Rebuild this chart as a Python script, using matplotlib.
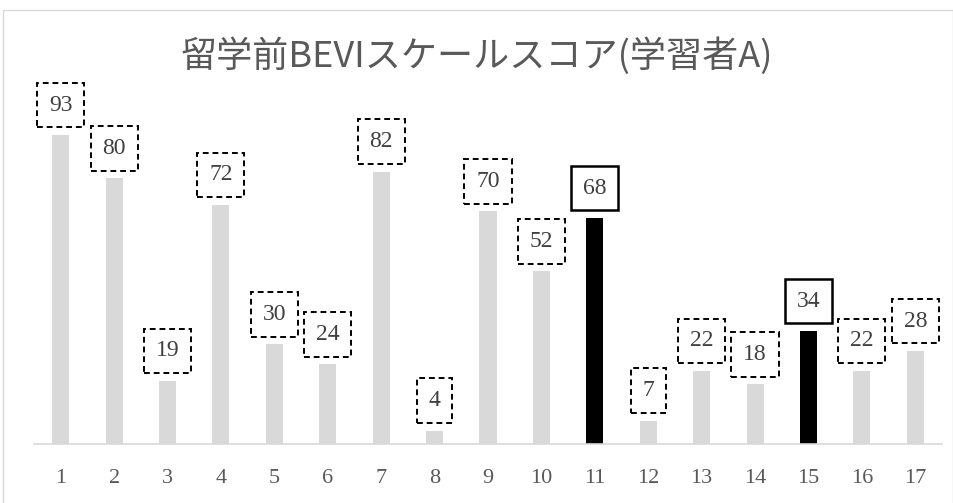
"""Pre-study BEVI scale scores for learner A."""

import matplotlib.pyplot as plt
from matplotlib.patches import Rectangle

plt.rcParams["font.family"] = ["Noto Sans CJK JP", "DejaVu Sans"]

SCALES = [str(i) for i in range(1, 18)]
SCORES = [93, 80, 19, 72, 30, 24, 82, 4, 70, 52, 68, 7, 22, 18, 34, 22, 28]
HIGHLIGHT = ["11", "15"]
TITLE = "留学前BEVIスケールスコア(学習者A)"

GRAY = "#d9d9d9"
TEXT = "#595959"
SERIF = ["Liberation Serif", "DejaVu Serif"]

fig = plt.figure(figsize=(9.54, 5.03), dpi=100)
# chart frame like a spreadsheet chart area
fig.patches.append(Rectangle((3 / 954, -0.01), 950 / 954, 1 - 10 / 503 + 0.01,
                             transform=fig.transFigure, fill=False, edgecolor=GRAY, lw=1.0))

ax = fig.add_axes([34 / 954, (503 - 444) / 503, 908 / 954, 382 / 503])
x = list(range(1, len(SCALES) + 1))
colors = ["black" if s in HIGHLIGHT else GRAY for s in SCALES]
ax.bar(x, SCORES, width=0.32, color=colors, zorder=2)

for xi, s, v in zip(x, SCALES, SCORES):
    solid = s in HIGHLIGHT
    ax.annotate(str(v), (xi, v), xytext=(0, 14), textcoords="offset points",
                ha="center", va="bottom", fontsize=17, color="#404040", family=SERIF,
                bbox=dict(boxstyle="square,pad=0.5", facecolor="white", edgecolor="black",
                          lw=1.8 if solid else 1.4, linestyle="-" if solid else (0, (3, 2))))

ax.set_xlim(0.5, len(SCALES) + 0.5)
ax.set_ylim(0, 115)
ax.set_xticks(x)
ax.set_xticklabels(SCALES, family=SERIF, fontsize=16, color=TEXT)
ax.tick_params(axis="x", length=0, pad=18)
ax.set_yticks([])
for side in ["top", "right", "left"]:
    ax.spines[side].set_visible(False)
ax.spines["bottom"].set_color(GRAY)
ax.spines["bottom"].set_linewidth(1.2)

fig.text(0.5, 1 - 56 / 503, TITLE, ha="center", va="center", fontsize=26, color=TEXT)

fig.savefig("out.png", dpi=100)
